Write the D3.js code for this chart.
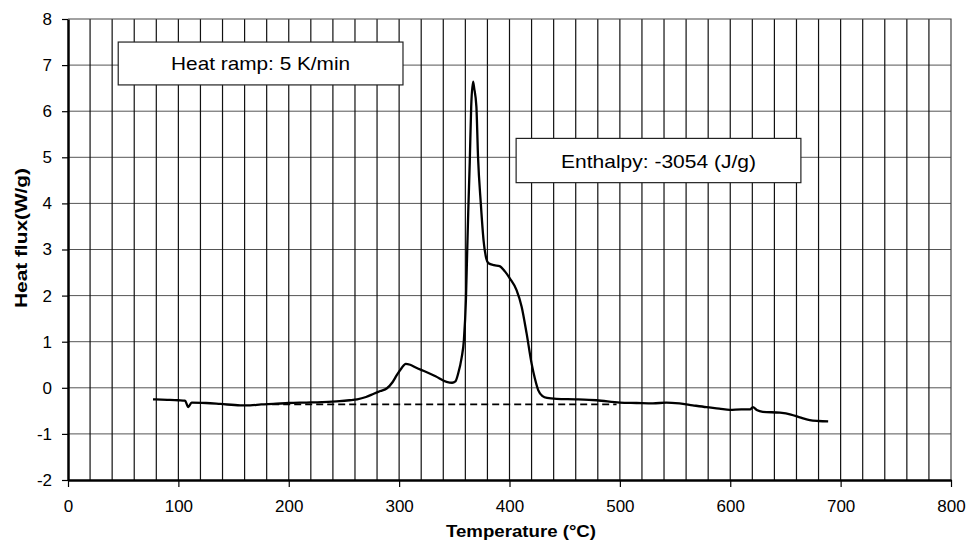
<!DOCTYPE html>
<html>
<head>
<meta charset="utf-8">
<script src="https://cdn.jsdelivr.net/npm/d3@7"></script>
<style>
  body { margin: 0; background: #fff; }
  svg text { font-family: "Liberation Sans", Arial, sans-serif; }
</style>
</head>
<body>
<div id="chart"></div>
<script>
// DSC curve
var temps = [77, 90, 100, 106, 109, 112, 125, 138, 156, 165, 175, 186, 200, 216, 230, 246, 255, 262, 270, 277,
  283, 289, 294, 298, 302, 306, 310, 316, 322, 333, 343, 348, 351, 353.5, 356.6, 358.7, 360.5, 361.5, 362.6, 364,
  365.3, 367, 368, 370, 371.5, 374, 376.5, 379, 381, 386, 391, 396, 400.4, 406.4, 411, 415.5, 420, 423, 426, 430,
  434, 442.7, 460, 479, 500, 515, 530, 542, 554, 566, 578.5, 590, 599.6, 610, 618, 620.5, 624, 629.5, 645, 655,
  663, 672, 680, 688.7];
var flux = [-0.25, -0.26, -0.27, -0.28, -0.42, -0.32, -0.33, -0.35, -0.38, -0.38, -0.36, -0.35, -0.33, -0.32, -0.31, -0.29, -0.27, -0.25, -0.2, -0.13,
  -0.07, -0.01, 0.12, 0.28, 0.42, 0.52, 0.50, 0.43, 0.37, 0.25, 0.13, 0.11, 0.14, 0.31, 0.65, 1.04, 1.90, 2.8, 3.8, 4.9,
  6.1, 6.64, 6.5, 6.1, 5.0, 4.0, 3.2, 2.8, 2.70, 2.66, 2.64, 2.52, 2.37, 2.12, 1.76, 1.18, 0.53, 0.2, -0.05, -0.18,
  -0.22, -0.24, -0.25, -0.27, -0.32, -0.33, -0.34, -0.32, -0.34, -0.38, -0.42, -0.45, -0.48, -0.47, -0.47, -0.42, -0.48, -0.52, -0.54, -0.58,
  -0.64, -0.70, -0.72, -0.73];

// baseline (dashed)
var baseT = [185, 497];
var baseH = [-0.36, -0.36];

var xTicks = [0, 100, 200, 300, 400, 500, 600, 700, 800];
var yTicks = [-2, -1, 0, 1, 2, 3, 4, 5, 6, 7, 8];
var xGrid = d3.range(20, 800, 20);

var notes = [
  { label: "Heat ramp: 5 K/min", t0: 45.5, t1: 303.5, h0: 6.57, h1: 7.5, len: 179 },
  { label: "Enthalpy: -3054 (J/g)", t0: 406, t1: 664, h0: 4.45, h1: 5.41, len: 195 }
];

var W = 972, H = 545;
var margin = { top: 19, right: 21, bottom: 65, left: 68 };

var svg = d3.select("#chart").append("svg")
  .attr("width", W)
  .attr("height", H);

var x = d3.scaleLinear().domain([0, 800]).range([margin.left, W - margin.right]);
var y = d3.scaleLinear().domain([-2, 8]).range([H - margin.bottom, margin.top]);

// grid
svg.append("g").selectAll("line")
  .data(yTicks.slice(1, -1))
  .join("line")
  .attr("x1", x(0)).attr("x2", x(800))
  .attr("y1", d => y(d)).attr("y2", d => y(d))
  .attr("stroke", "#555").attr("stroke-width", 1);

svg.append("g").selectAll("line")
  .data(xGrid)
  .join("line")
  .attr("x1", d => x(d)).attr("x2", d => x(d))
  .attr("y1", y(-2)).attr("y2", y(8))
  .attr("stroke", "#111").attr("stroke-width", 1.2);

// frame top/right
svg.append("path")
  .attr("d", "M" + x(0) + "," + y(8) + "H" + x(800) + "V" + y(-2))
  .attr("fill", "none").attr("stroke", "#444").attr("stroke-width", 1.2);

// axes
var xAxis = d3.axisBottom(x).tickValues(xTicks).tickSize(7).tickSizeOuter(0).tickPadding(8)
  .tickFormat(d => String(d));
var yAxis = d3.axisLeft(y).tickValues(yTicks).tickSize(6).tickSizeOuter(0).tickPadding(10)
  .tickFormat(d => String(d));

var gx = svg.append("g").attr("transform", "translate(0," + y(-2) + ")").call(xAxis);
var gy = svg.append("g").attr("transform", "translate(" + x(0) + ",0)").call(yAxis);

[gx, gy].forEach(function (g) {
  g.select(".domain").attr("stroke", "#000").attr("stroke-width", 2.5);
  g.selectAll(".tick line").attr("stroke", "#000").attr("stroke-width", 1.2);
  g.selectAll(".tick text").attr("fill", "#000").style("font-size", "17px")
    .style("font-family", "'Liberation Sans', Arial, sans-serif");
});
gx.selectAll(".tick text").attr("dy", "1.0em");

// baseline dashed
var line = d3.line().x(d => x(d[0])).y(d => y(d[1]));
svg.append("path")
  .datum(d3.zip(baseT, baseH))
  .attr("d", line)
  .attr("fill", "none")
  .attr("stroke", "#000")
  .attr("stroke-width", 1.7)
  .attr("stroke-dasharray", "7,4");

// curve
svg.append("path")
  .datum(d3.zip(temps, flux))
  .attr("d", line.curve(d3.curveMonotoneX))
  .attr("fill", "none")
  .attr("stroke", "#000")
  .attr("stroke-width", 2.3)
  .attr("stroke-linejoin", "round");

// note boxes
var nb = svg.append("g").selectAll("g").data(notes).join("g");
nb.append("rect")
  .attr("x", d => x(d.t0)).attr("y", d => y(d.h1))
  .attr("width", d => x(d.t1) - x(d.t0)).attr("height", d => y(d.h0) - y(d.h1))
  .attr("fill", "#fff").attr("stroke", "#222").attr("stroke-width", 1.2);
nb.append("text")
  .attr("x", d => (x(d.t0) + x(d.t1)) / 2)
  .attr("y", d => (y(d.h0) + y(d.h1)) / 2 + 7)
  .attr("text-anchor", "middle")
  .attr("textLength", d => d.len)
  .attr("lengthAdjust", "spacingAndGlyphs")
  .style("font-size", "19px")
  .text(d => d.label);

// axis titles
svg.append("text")
  .attr("x", 521).attr("y", 537)
  .attr("text-anchor", "middle")
  .attr("textLength", 150)
  .attr("lengthAdjust", "spacingAndGlyphs")
  .style("font-size", "17px").style("font-weight", "bold")
  .text("Temperature (°C)");

svg.append("text")
  .attr("transform", "translate(27,238) rotate(-90)")
  .attr("text-anchor", "middle")
  .attr("textLength", 140)
  .attr("lengthAdjust", "spacingAndGlyphs")
  .style("font-size", "16px").style("font-weight", "bold")
  .text("Heat flux(W/g)");
</script>
</body>
</html>
